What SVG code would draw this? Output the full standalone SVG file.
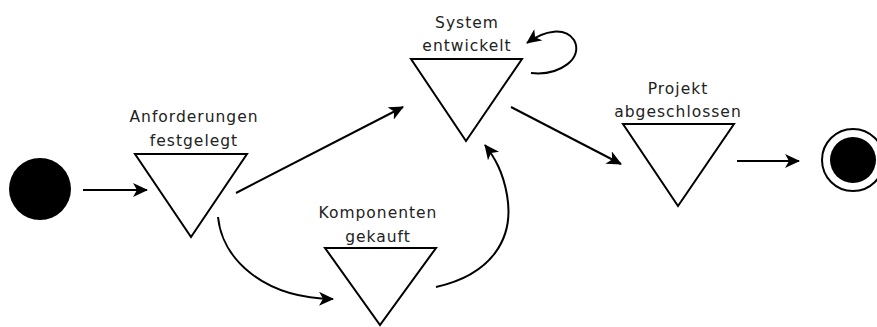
<svg xmlns="http://www.w3.org/2000/svg" width="877" height="327" viewBox="0 0 877 327">
<style>
.tri{fill:#fff;stroke:#000;stroke-width:2;stroke-linejoin:miter}
.lbl{font-family:"DejaVu Sans",sans-serif;font-size:15.5px;letter-spacing:1px;fill:#222;text-anchor:middle}
.con{fill:none;stroke:#000;stroke-width:2;marker-end:url(#ah)}
</style>
<defs>
<marker id="ah" viewBox="0 0 15 14" refX="14" refY="7" markerWidth="15" markerHeight="14" markerUnits="userSpaceOnUse" orient="auto">
<path d="M0,0 L15,7 L0,14 L4,7 z" fill="#000"/>
</marker>
</defs>
<rect width="877" height="327" fill="#fff"/>
<g id="start"><circle cx="40" cy="189" r="31" fill="#000"/></g>
<g id="anforderungen">
<polygon class="tri" points="135,154 247,154 191,237"/>
<text class="lbl" x="194" y="122">Anforderungen</text>
<text class="lbl" x="194" y="146">festgelegt</text>
</g>
<g id="system">
<polygon class="tri" points="411,59 522,59 466,141"/>
<text class="lbl" x="467" y="28">System</text>
<text class="lbl" x="467" y="51">entwickelt</text>
</g>
<g id="komponenten">
<polygon class="tri" points="325,248 436,248 380,325"/>
<text class="lbl" x="378" y="218">Komponenten</text>
<text class="lbl" x="378" y="242">gekauft</text>
</g>
<g id="projekt">
<polygon class="tri" points="623,124 734,124 678,206"/>
<text class="lbl" x="678" y="94">Projekt</text>
<text class="lbl" x="678" y="117">abgeschlossen</text>
</g>
<g id="end">
<circle cx="853" cy="160" r="31" fill="#fff" stroke="#000" stroke-width="2"/>
<circle cx="853" cy="160" r="23" fill="#000"/>
</g>
<g id="connectors">
<path class="con" d="M83,190 L147,190"/>
<path class="con" d="M236,193 L403,107"/>
<path class="con" d="M531,73 C560,76 584,58 574,40 C565,27 545,30 527,43"/>
<path class="con" d="M218,217 C222,258 262,298 333,299"/>
<path class="con" d="M436,287 C490,275 515,240 507,195 C503,172 495,158 485,145"/>
<path class="con" d="M511,107 L621,164"/>
<path class="con" d="M737,161 L799,161"/>
</g>
</svg>
